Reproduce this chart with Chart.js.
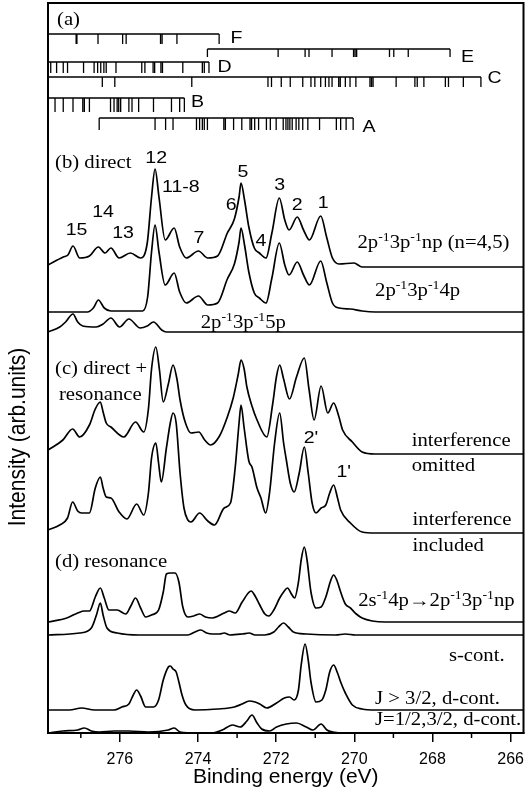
<!DOCTYPE html>
<html>
<head>
<meta charset="utf-8">
<script src="https://cdn.jsdelivr.net/npm/chart.js@4.4.0/dist/chart.umd.min.js"></script>
<style>
  html, body { margin: 0; padding: 0; background: #fff; }
</style>
</head>
<body>
<canvas id="spectra" width="532" height="793"></canvas>
<script>
// binding energy axis (eV), reversed
const energyMin = 265.67;
const energyMax = 277.84;
const majorTicks = [276, 274, 272, 270, 268, 266];
const minorTicks = [277, 275, 273, 271, 269, 267];

// vertical offset of every trace, top to bottom (arb. units)
const traceOffsets = [466, 421, 401, 279, 200, 111, 98, 23, 0];

// (b) direct, 2p-1 3p-1 np (n=4,5)
const np45Energy = [277.84, 277.45, 277.33, 277.20, 277.03, 276.78, 276.55, 276.38, 276.23, 276.02, 275.73, 275.47, 275.30, 275.19, 275.10, 275.00, 274.84, 274.61, 274.47, 274.30, 273.99, 273.75, 273.50, 273.25, 273.07, 272.95, 272.90, 272.81, 272.70, 272.56, 272.43, 272.26, 272.11, 271.92, 271.78, 271.67, 271.46, 271.30, 271.15, 270.86, 270.71, 270.56, 270.39, 270.01, 269.80, 265.67];
const np45Intensity = [2, 10, 12, 21, 9, 11, 20, 14, 19, 9, 14, 9, 24, 70, 98, 70, 27, 39, 20, 9, 16, 9, 11, 34, 48, 70, 84, 67, 40, 19, 14, 9, 34, 69, 47, 37, 50, 37, 27, 51, 30, 9, 3, 4, 0, 0];

// (b) direct, 2p-1 3p-1 4p
const p4Energy = [277.84, 276.83, 276.68, 276.55, 276.40, 276.23, 275.42, 275.29, 275.19, 275.10, 275.00, 274.84, 274.61, 274.47, 274.30, 273.99, 273.75, 273.50, 273.25, 273.07, 272.95, 272.90, 272.81, 272.70, 272.56, 272.43, 272.26, 272.11, 271.92, 271.78, 271.67, 271.46, 271.30, 271.15, 270.86, 270.71, 270.56, 270.39, 270.10, 269.80, 269.47, 265.67];
const p4Intensity = [0, 0, 4, 12, 4, 1, 1, 15, 60, 87, 60, 27, 39, 20, 9, 16, 7, 9, 33, 48, 70, 84, 67, 40, 19, 14, 9, 34, 69, 47, 37, 50, 37, 27, 51, 30, 9, 4, 3, 1, 0, 0];

// (b) direct, 2p-1 3p-1 5p
const p5Energy = [277.84, 277.54, 277.39, 277.20, 277.08, 276.95, 276.61, 276.43, 276.23, 276.01, 275.77, 275.48, 275.30, 275.14, 274.93, 274.81, 265.67];
const p5Intensity = [0, 5, 10, 18, 10, 6, 5, 8, 14, 5, 13, 4, 6, 10, 2, 0, 0];

// (c) direct + resonance, interference omitted
const omittedEnergy = [277.84, 277.46, 277.21, 277.03, 276.78, 276.63, 276.50, 276.43, 276.35, 276.23, 275.90, 275.60, 275.39, 275.27, 275.19, 275.08, 274.99, 274.89, 274.76, 274.64, 274.54, 274.46, 274.33, 274.18, 273.98, 273.83, 273.68, 273.45, 273.25, 273.10, 272.97, 272.90, 272.82, 272.75, 272.62, 272.49, 272.24, 272.09, 271.99, 271.91, 271.81, 271.66, 271.48, 271.28, 271.16, 271.03, 270.85, 270.68, 270.53, 270.40, 270.30, 270.05, 269.80, 269.47, 265.67];
const omittedIntensity = [4, 14, 25, 17, 29, 45, 52, 42, 31, 27, 17, 32, 22, 45, 85, 107, 85, 52, 70, 89, 75, 54, 32, 21, 22, 14, 9, 18, 37, 56, 80, 94, 85, 67, 48, 34, 17, 50, 78, 89, 75, 55, 77, 96, 65, 34, 68, 41, 51, 38, 24, 12, 2, 0, 0];

// (c) direct + resonance, interference included
const includedEnergy = [277.84, 277.54, 277.34, 277.21, 277.08, 276.98, 276.78, 276.63, 276.50, 276.43, 276.35, 276.23, 276.02, 275.82, 275.57, 275.39, 275.27, 275.19, 275.08, 275.01, 274.94, 274.81, 274.71, 274.64, 274.56, 274.46, 274.36, 274.26, 274.18, 273.96, 273.75, 273.58, 273.33, 273.17, 273.05, 272.95, 272.90, 272.82, 272.70, 272.62, 272.49, 272.39, 272.27, 272.17, 272.04, 271.91, 271.81, 271.74, 271.64, 271.54, 271.41, 271.28, 271.18, 271.08, 270.98, 270.85, 270.73, 270.63, 270.53, 270.43, 270.35, 270.10, 269.80, 269.47, 265.67];
const includedIntensity = [3, 8, 15, 31, 22, 20, 20, 45, 56, 45, 36, 35, 21, 14, 29, 18, 40, 75, 90, 70, 51, 85, 110, 120, 110, 60, 25, 13, 11, 20, 12, 8, 25, 30, 65, 110, 128, 105, 72, 66, 45, 35, 20, 40, 90, 120, 90, 73, 50, 41, 60, 86, 60, 30, 20, 25, 28, 40, 48, 35, 23, 10, 1, 0, 0];

// (d) resonance, 2s-1 4p -> 2p-1 3p-1 np
const resonanceEnergy = [277.84, 277.36, 277.08, 276.91, 276.78, 276.63, 276.50, 276.40, 276.28, 276.07, 275.85, 275.72, 275.60, 275.47, 275.34, 275.19, 275.01, 274.89, 274.81, 274.71, 274.59, 274.49, 274.39, 274.26, 274.11, 273.96, 273.81, 273.63, 273.33, 273.20, 273.05, 272.87, 272.64, 272.54, 272.42, 272.29, 272.19, 272.06, 271.91, 271.81, 271.71, 271.61, 271.53, 271.43, 271.36, 271.28, 271.21, 271.11, 270.98, 270.85, 270.73, 270.60, 270.53, 270.45, 270.35, 270.23, 270.10, 269.95, 269.80, 269.54, 269.21, 265.67];
const resonanceIntensity = [0, 4, 9, 11, 11, 25, 34, 24, 12, 12, 8, 16, 24, 14, 5, 7, 12, 30, 48, 49, 49, 40, 15, 5, 6, 8, 5, 4, 9, 11, 9, 20, 31, 26, 17, 8, 6, 12, 24, 30, 34, 28, 24, 40, 62, 75, 62, 30, 14, 15, 25, 42, 47, 42, 30, 18, 14, 8, 4, 1, 0, 0];

// s-cont.
const sContEnergy = [277.84, 277.03, 276.73, 276.60, 276.50, 276.43, 276.33, 276.07, 275.52, 274.26, 274.08, 273.93, 273.78, 273.63, 273.45, 273.33, 273.18, 272.87, 272.69, 272.54, 272.29, 272.06, 271.94, 271.81, 271.69, 271.56, 271.23, 270.48, 270.23, 269.97, 265.67];
const sContIntensity = [0, 2, 7, 20, 32, 20, 7, 2, 0, 0, 3, 5, 2, 1, 1, 2, 0, 1, 2, 0, 0, 3, 8, 12, 8, 3, 1, 0, 1, 0, 0];

// J > 3/2, d-cont.
const dHighEnergy = [277.84, 277.29, 276.98, 276.65, 276.15, 275.95, 275.77, 275.67, 275.57, 275.47, 275.34, 275.14, 275.01, 274.89, 274.76, 274.71, 274.64, 274.56, 274.49, 274.41, 274.31, 274.08, 273.50, 273.07, 272.87, 272.69, 272.54, 272.42, 272.24, 271.99, 271.79, 271.66, 271.54, 271.43, 271.36, 271.26, 271.18, 271.11, 270.98, 270.83, 270.73, 270.63, 270.53, 270.43, 270.35, 270.23, 270.05, 269.80, 269.47, 265.67];
const dHighIntensity = [0, 0, 2, 0, 0, 3, 6, 14, 20, 14, 3, 3, 10, 30, 43, 44, 41, 38, 28, 15, 5, 0, 1, 3, 6, 9, 8, 6, 2, 7, 12, 13, 10, 20, 45, 66, 50, 28, 8, 10, 20, 38, 45, 37, 28, 17, 5, 1, 0, 0];

// J=1/2,3/2, d-cont.
const dLowEnergy = [277.84, 277.46, 277.08, 276.91, 276.73, 276.53, 276.15, 275.77, 275.27, 274.76, 274.61, 274.46, 274.01, 273.63, 273.38, 273.12, 272.92, 272.75, 272.62, 272.49, 272.37, 272.17, 271.99, 271.74, 271.48, 271.23, 271.06, 270.85, 270.70, 270.55, 270.23, 265.67];
const dLowIntensity = [0, 2, 3, 5, 2, 1, 2, 2, 1, 3, 5, 1, 0, 0, 3, 8, 6, 12, 18, 10, 4, 2, 6, 9, 10, 6, 3, 9, 3, 1, 0, 0];

// (a) level bars: row name, bracket start/end, bar level, stick length
const rowNames = ['F', 'E', 'D', 'C', 'B', 'A'];
const rowStart = [277.84, 273.76, 277.84, 277.84, 277.84, 276.53];
const rowEnd = [273.46, 267.55, 273.72, 266.76, 274.35, 270.03];
const rowLevel = [699, 684, 671, 656, 635, 615];
const rowStick = [10, 8, 11, 10, 14, 12];
const rowLines = [
  [277.12, 277.10, 276.56, 275.93, 275.84, 274.96, 274.92, 274.54, 273.46],
  [273.76, 271.95, 271.26, 271.16, 270.57, 270.02, 269.98, 269.94, 269.10, 268.99, 268.62, 267.55],
  [277.77, 277.62, 277.45, 277.34, 276.93, 276.66, 276.57, 276.49, 276.41, 276.35, 276.10, 275.44, 275.36, 275.15, 275.11, 274.95, 274.91, 274.39, 273.89, 273.84, 273.72],
  [276.45, 276.13, 274.16, 272.21, 272.12, 271.87, 271.64, 271.32, 271.11, 271.01, 270.86, 270.74, 270.65, 270.57, 270.40, 270.36, 270.23, 270.11, 269.96, 269.60, 269.56, 269.52, 268.93, 268.45, 268.39, 268.22, 267.67, 267.59, 267.21, 266.76],
  [277.66, 277.45, 277.20, 276.95, 276.91, 276.78, 276.24, 276.15, 276.07, 276.03, 275.98, 275.77, 275.69, 275.52, 275.14, 274.68, 274.47, 274.35],
  [276.53, 275.10, 274.83, 274.64, 274.04, 273.96, 273.89, 273.84, 273.76, 273.34, 273.30, 273.09, 272.88, 272.67, 272.63, 272.55, 272.45, 272.25, 272.15, 272.00, 271.82, 271.75, 271.70, 271.65, 271.59, 271.49, 271.42, 271.32, 271.19, 270.89, 270.46, 270.35, 270.21, 270.03]
];

// text: [text, energy, level]
const peakLabels = [
  ['15', 277.11, 498], ['14', 276.43, 516], ['13', 275.92, 495], ['12', 275.07, 570],
  ['11-8', 274.44, 541], ['7', 273.98, 490], ['6', 273.15, 523], ['5', 272.85, 556],
  ['4', 272.39, 487], ['3', 271.91, 543], ['2', 271.46, 523], ['1', 270.80, 525],
  ["2'", 271.11, 290], ["1'", 270.27, 256]
];
const rowLabels = [
  ['F', 273.17, 690], ['E', 267.27, 671], ['D', 273.50, 661],
  ['C', 266.59, 650], ['B', 274.18, 626], ['A', 269.79, 601]
];
const panelLabels = [
  ['(a)', 277.61, 708], ['(b) direct', 277.66, 565.5], ['(c) direct +', 277.66, 359.5],
  ['resonance', 277.56, 333], ['(d) resonance', 277.66, 166],
  ['2p^{-1}3p^{-1}np (n=4,5)', 269.92, 485], ['2p^{-1}3p^{-1}4p', 269.47, 437],
  ['2p^{-1}3p^{-1}5p', 273.93, 405], ['interference', 268.53, 287], ['omitted', 268.53, 262],
  ['interference', 268.51, 208], ['included', 268.51, 182],
  ['2s^{-1}4p\u21922p^{-1}3p^{-1}np', 269.90, 127], ['s-cont.', 267.58, 72],
  ['J > 3/2, d-cont.', 269.47, 29], ['J=1/2,3/2, d-cont.', 269.47, 8]
];
const yTitle = 'Intensity (arb.units)';
const yTitleLevel = 296;

const serif = "'Liberation Serif', 'Times New Roman', serif";
const sans = "'Liberation Sans', Arial, Helvetica, sans-serif";
const textStretch = 1.15;

function trace(energy, intensity, offset) {
  return {
    data: energy.map((e, i) => ({ x: e, y: intensity[i] + offset })),
    borderColor: '#000',
    borderWidth: 1.7,
    pointRadius: 0,
    cubicInterpolationMode: 'monotone'
  };
}

function levelRow(i) {
  const pts = [{ x: rowStart[i], y: rowLevel[i] }, { x: rowEnd[i], y: rowLevel[i] }, { x: rowEnd[i], y: null }];
  rowLines[i].forEach(e => {
    pts.push({ x: e, y: rowLevel[i] }, { x: e, y: rowLevel[i] - rowStick[i] }, { x: e, y: null });
  });
  return { data: pts, borderColor: '#000', borderWidth: 1.3, pointRadius: 0, tension: 0, spanGaps: false };
}

const datasets = [
  trace(np45Energy, np45Intensity, traceOffsets[0]),
  trace(p4Energy, p4Intensity, traceOffsets[1]),
  trace(p5Energy, p5Intensity, traceOffsets[2]),
  trace(omittedEnergy, omittedIntensity, traceOffsets[3]),
  trace(includedEnergy, includedIntensity, traceOffsets[4]),
  trace(resonanceEnergy, resonanceIntensity, traceOffsets[5]),
  trace(sContEnergy, sContIntensity, traceOffsets[6]),
  trace(dHighEnergy, dHighIntensity, traceOffsets[7]),
  trace(dLowEnergy, dLowIntensity, traceOffsets[8])
];
rowNames.forEach((n, i) => datasets.push(levelRow(i)));

// split "2p^{-1}3p" into plain and superscript pieces
function pieces(text) {
  const out = [];
  const re = /\^\{([^}]*)\}/g;
  let last = 0, m;
  while ((m = re.exec(text))) {
    if (m.index > last) out.push({ t: text.slice(last, m.index), sup: false });
    out.push({ t: m[1], sup: true });
    last = re.lastIndex;
  }
  if (last < text.length) out.push({ t: text.slice(last), sup: false });
  return out;
}

function drawLabel(ctx, text, px, py, family, size, align) {
  const parts = pieces(text);
  const supSize = Math.round(size * 0.65);
  let width = 0;
  parts.forEach(p => {
    ctx.font = (p.sup ? supSize : size) + 'px ' + family;
    p.w = ctx.measureText(p.t).width;
    width += p.w;
  });
  ctx.save();
  ctx.translate(px, py);
  ctx.scale(textStretch, 1);
  ctx.fillStyle = '#000';
  ctx.textAlign = 'left';
  ctx.textBaseline = 'alphabetic';
  let cx = align === 'center' ? -width / 2 : 0;
  parts.forEach(p => {
    ctx.font = (p.sup ? supSize : size) + 'px ' + family;
    ctx.fillText(p.t, cx, p.sup ? -size * 0.38 : 0);
    cx += p.w;
  });
  ctx.restore();
}

const framePlugin = {
  id: 'frame',
  afterDraw(chart) {
    const { ctx, chartArea: a, scales: { x, y } } = chart;
    ctx.save();
    ctx.strokeStyle = '#000';
    ctx.lineWidth = 2;
    ctx.strokeRect(a.left, a.top, a.right - a.left, a.bottom - a.top);
    ctx.lineWidth = 1.5;
    minorTicks.forEach(v => {
      const px = x.getPixelForValue(v);
      ctx.beginPath();
      ctx.moveTo(px, a.bottom);
      ctx.lineTo(px, a.bottom + 5);
      ctx.stroke();
    });
    // y axis title, rotated
    ctx.translate(y.left + 17, y.getPixelForValue(yTitleLevel));
    ctx.scale(textStretch, 1);
    ctx.rotate(-Math.PI / 2);
    ctx.fillStyle = '#000';
    ctx.font = '21px ' + sans;
    ctx.textAlign = 'center';
    ctx.textBaseline = 'middle';
    ctx.fillText(yTitle, 0, 0);
    ctx.restore();
  }
};

const labelPlugin = {
  id: 'labels',
  afterDatasetsDraw(chart) {
    const { ctx, scales: { x, y } } = chart;
    peakLabels.forEach(l => drawLabel(ctx, l[0], x.getPixelForValue(l[1]), y.getPixelForValue(l[2]), sans, 17, 'center'));
    rowLabels.forEach(l => drawLabel(ctx, l[0], x.getPixelForValue(l[1]), y.getPixelForValue(l[2]), sans, 17, 'left'));
    panelLabels.forEach(l => drawLabel(ctx, l[0], x.getPixelForValue(l[1]), y.getPixelForValue(l[2]), serif, 18, 'left'));
  }
};

new Chart(document.getElementById('spectra').getContext('2d'), {
  type: 'line',
  data: { datasets: datasets },
  options: {
    responsive: false,
    animation: false,
    events: [],
    layout: { padding: { left: 1, right: 1.5, top: 3, bottom: 0 } },
    plugins: { legend: { display: false }, tooltip: { enabled: false } },
    scales: {
      x: {
        type: 'linear',
        reverse: true,
        min: energyMin,
        max: energyMax,
        afterBuildTicks: s => { s.ticks = majorTicks.map(v => ({ value: v })); },
        afterFit: s => { s.height = 60; },
        grid: { drawOnChartArea: false, drawTicks: true, tickLength: 9, color: '#000', lineWidth: 1.5 },
        border: { display: true, color: '#000', width: 2 },
        ticks: { color: '#000', font: { family: sans, size: 16 }, padding: 8, maxRotation: 0, autoSkip: false },
        title: { display: true, text: 'Binding energy (eV)', color: '#000', font: { family: sans, size: 21 }, padding: { top: 0, bottom: 3 } }
      },
      y: {
        type: 'linear',
        min: 0,
        max: 730,
        afterFit: s => { s.width = 47; },
        grid: { display: false, drawTicks: false },
        ticks: { display: false },
        border: { display: true, color: '#000', width: 2 },
        title: { display: false }
      }
    }
  },
  plugins: [framePlugin, labelPlugin]
});
</script>
</body>
</html>
